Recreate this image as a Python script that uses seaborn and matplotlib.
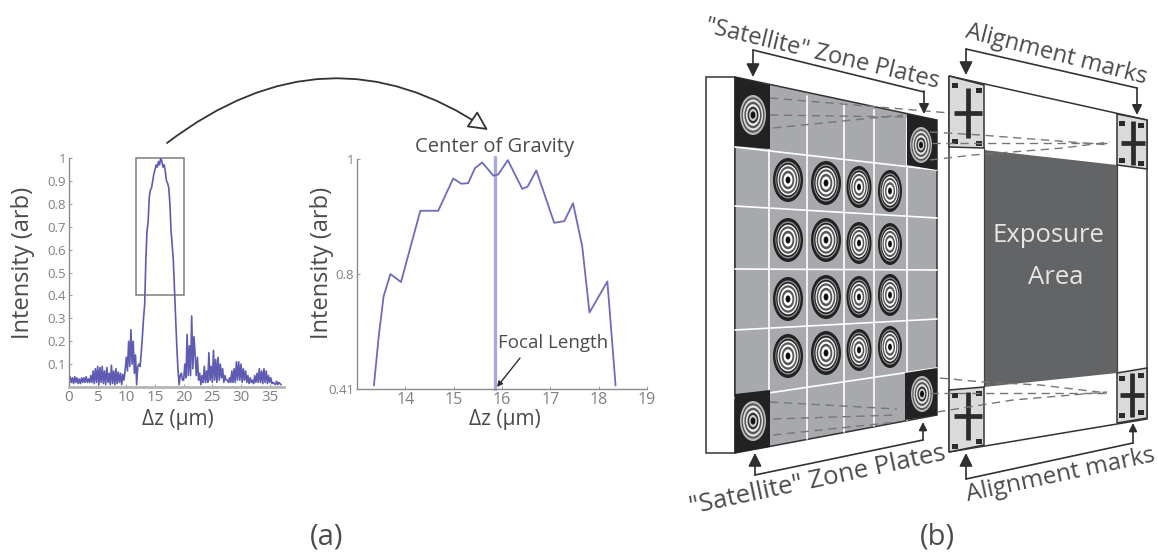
import numpy as np
import pandas as pd
import matplotlib
matplotlib.use("Agg")
import matplotlib.pyplot as plt
import seaborn as sns
from matplotlib.patches import Polygon, Ellipse, Rectangle, FancyArrowPatch
from matplotlib.path import Path

# full scan, one value every 0.2 um
scan_vals = [
    .01,.045,.02,.04,.015,.045,.02,.04,.015,.035,.015,.04,.02,.04,.02,.045,.02,.035,.02,.05,
    .02,.07,.015,.08,.02,.09,.01,.085,.02,.09,
    .015,.07,.01,.085,.02,.06,.01,.095,.015,.07,
    .01,.08,.015,.065,.02,.06,.01,.055,.03,.075,
    .13,.07,.2,.09,.25,.1,.2,.06,.14,.01,.09,
    .1,.09,.15,.22,.3,.36,.55,.68,.72,.83,.86,.87,.9,.93,.95,.97,.96,.985,.97,1.0,.985,.96,.97,.94,
    .9,.89,.87,.8,.68,.62,.55,.42,.3,.18,.08,.01,.05,.06,.03,
    .03,.1,.04,.23,.05,.18,.05,.31,.08,.22,
    .14,.05,.13,.03,.06,.01,.05,.02,.09,.02,
    .07,.02,.15,.03,.09,.02,.16,.03,.12,.02,
    .13,.03,.1,.04,.08,.02,.05,.03,.03,.02,
    .04,.02,.07,.02,.08,.02,.11,.03,.11,.03,
    .1,.02,.08,.03,.07,.02,.05,.015,.04,.02,
    .03,.015,.05,.02,.06,.02,.08,.02,.07,.015,
    .08,.02,.07,.015,.05,.02,.04,.015,.02,.015,.01,
    .025,.01,.02,.015,.01,
]
scan_dz = [i * 0.2 for i in range(len(scan_vals))]

# zoomed peak
peak_dz = [13.35,13.45,13.55,13.69,13.91,14.31,14.68,14.99,15.16,15.30,15.44,15.59,15.82,15.92,16.12,
           16.42,16.53,16.71,17.08,17.29,17.47,17.66,17.81,18.18,18.35]
peak_vals = [.606,.692,.761,.80,.786,.91,.91,.966,.957,.958,.984,.994,.971,.973,.998,
             .948,.952,.98,.889,.892,.923,.848,.733,.787,.606]
focal_dz = 15.86

left_xticks = [0,5,10,15,20,25,30,35]
left_yticks = [.1,.2,.3,.4,.5,.6,.7,.8,.9,1]
left_ylabels = ["0.1","0.2","0.3","0.4","0.5","0.6","0.7","0.8","0.9","1"]
right_xticks = [14,15,16,17,18,19]
right_yticks = [.6,.8,1]
right_ylabels = ["0.41","0.8","1"]

# zone plate layout of the sketch (image pixels)
plate_cols = [788,826,859,890]
plate_rows = [[180,240,299,356],[183,240,297,353],[187,243,297,350],[191,244,295,347]]
plate_rx = [15,15,12.5,12]
plate_ry = [22,22,21,21]
sat_plates = [(753,115,13,20),(921,145,11,18),(753,421,13,20),(922,394,11,18)]

GREY = "#4a4b4d"
BLUE = "#5f5bb2"
W, H = 1158, 558

sns.set_theme(style="white")
plt.rcParams["font.family"] = ["Open Sans", "DejaVu Sans"]

fig = plt.figure(figsize=(W/100, H/100), dpi=100)


def px_axes(x0, y0, x1, y1):
    return fig.add_axes([x0/W, 1-y1/H, (x1-x0)/W, (y1-y0)/H])


def style_axes(ax, tick_size):
    sns.despine(ax=ax)
    for s in ["left", "bottom"]:
        ax.spines[s].set_color("#8a8a8a")
        ax.spines[s].set_linewidth(1.0)
    ax.tick_params(direction="in", length=2, width=0.6, color="#8a8a8a",
                   labelcolor="#808080", labelsize=tick_size, pad=2,
                   left=True, bottom=True)
    ax.set_xlabel("")
    ax.set_ylabel("")
    ax.patch.set_alpha(0)


# left plot
ax1 = px_axes(69, 158, 284, 387)
scan = pd.DataFrame({"dz": scan_dz, "val": scan_vals})
sns.lineplot(data=scan, x="dz", y="val", ax=ax1, color=BLUE, lw=1.2, estimator=None)
ax1.set_xlim(0, 37.5)
ax1.set_ylim(0, 1)
ax1.set_xticks(left_xticks)
ax1.set_yticks(left_yticks, left_ylabels)
style_axes(ax1, 9.5)
ax1.tick_params(axis="x", labelsize=11)
ax1.spines["bottom"].set_linewidth(2)
ax1.spines["bottom"].set_color("#b5b5b5")
ax1.add_patch(Rectangle((11.65, .4), 8.35, .6, fill=False, ec="#7d7d7d", lw=1.1, clip_on=False))

# right plot
ax2 = px_axes(357, 159, 647, 389)
peak = pd.DataFrame({"dz": peak_dz, "val": peak_vals})
ax2.axvline(focal_dz, color="#a9a7dc", lw=2.4, ymax=1.01, clip_on=False)
sns.lineplot(data=peak, x="dz", y="val", ax=ax2, color="#6e6abf", lw=1.3, estimator=None)
ax2.set_xlim(13, 19)
ax2.set_ylim(.6, 1)
ax2.set_xticks(right_xticks)
ax2.set_yticks(right_yticks, right_ylabels)
style_axes(ax2, 11.5)
ax2.tick_params(axis="y", labelsize=9.5)

# overlay in image pixels for the labels and the sketch
ov = fig.add_axes([0, 0, 1, 1])
ov.set_xlim(0, W)
ov.set_ylim(H, 0)
ov.axis("off")
ov.patch.set_alpha(0)


def label(x, y, s, size=14, rot=0, color=GREY, **kw):
    ov.text(x, y, s, fontsize=size, rotation=rot, color=color, ha="center", va="center",
            rotation_mode="anchor", **kw)


def quad(pts, fc, ec="none", lw=0, z=1):
    ov.add_patch(Polygon(pts, closed=True, fc=fc, ec=ec, lw=lw, zorder=z))


def arrow(a, b, ms=20, lw=1.2):
    ov.add_patch(FancyArrowPatch(a, b, arrowstyle="-|>", mutation_scale=ms, color="#2e2e2e",
                                 lw=lw, shrinkA=0, shrinkB=0, zorder=6))


def rings(cx, cy, rx, ry, fracs, cols, z=3):
    for f, c in zip(fracs, cols):
        ov.add_patch(Ellipse((cx, cy), 2*rx*f, 2*ry*f, fc=c, ec="none", zorder=z))


def cross(cx, cy, hw, hh, lw=3.4):
    ov.plot([cx, cx], [cy-hh, cy+hh], color="#2b2b2b", lw=lw, zorder=4, solid_capstyle="butt")
    ov.plot([cx-hw, cx+hw], [cy, cy], color="#2b2b2b", lw=lw, zorder=4, solid_capstyle="butt")


def dashes(xs, ys):
    ov.plot(xs, ys, color="#777777", lw=1.0, ls=(0, (6, 4)), zorder=5)


label(23, 263, "Intensity (arb)", 17, 90)
label(178, 420, "Δz (μm)", 15)
label(322, 263, "Intensity (arb)", 17, 90)
label(505, 420, "Δz (μm)", 15)
label(495, 147, "Center of Gravity", 14.5)
label(553, 343, "Focal Length", 13.5)
label(327, 537, "(a)", 21)
label(937, 537, "(b)", 21)
arrow((520, 358), (497, 387), ms=8, lw=1)

# curved arrow between the plots
curve = Path([(167, 143), (327, 21), (488, 130)], [Path.MOVETO, Path.CURVE3, Path.CURVE3])
ov.add_patch(FancyArrowPatch(path=curve, arrowstyle="-|>", mutation_scale=30, fc="white",
                             ec="#333333", lw=1.3, shrinkA=0, shrinkB=0))

# zone plate wafer
quad([(706, 77), (735, 77), (735, 453), (706, 453)], "white", "#333333", 1.1, 1)
quad([(735, 77), (937, 120), (937, 415), (735, 453)], "#a7a9ac", "#333333", 1.1, 1)
for x, t, b in [(769, 88, 446), (807, 96, 439), (844, 104, 432), (874, 110, 426), (907, 118, 420)]:
    ov.plot([x, x], [t, b], color="white", lw=1.2, zorder=2)
for l, r in [(147, 170), (206, 218), (269, 270), (330, 319), (398, 368)]:
    ov.plot([735, 937], [l, r], color="white", lw=1.2, zorder=2)
quad([(735, 77), (770, 85), (770, 149), (735, 146)], "#222222", z=2)
quad([(907, 114), (937, 120), (937, 170), (907, 165)], "#222222", z=2)
quad([(735, 394), (770, 390), (770, 447), (735, 453)], "#222222", z=2)
quad([(905, 373), (937, 368), (937, 415), (905, 420)], "#222222", z=2)

pl_fracs = [1, .84, .78, .7, .62, .52, .42, .3, .16]
pl_cols = ["#222222", "#999999", "#222222", "#eeeeee", "#555555", "#ffffff", "#555555", "#ffffff", "#111111"]
for cx, rows, rx, ry in zip(plate_cols, plate_rows, plate_rx, plate_ry):
    for cy in rows:
        rings(cx, cy, rx, ry, pl_fracs, pl_cols)
sat_fracs = [1, .88, .78, .66, .54, .42, .3, .18]
sat_cols = ["#b8b8b8", "#555555", "#dddddd", "#555555", "#eeeeee", "#333333", "#cccccc", "#111111"]
for cx, cy, rx, ry in sat_plates:
    rings(cx, cy, rx, ry, sat_fracs, sat_cols)

# mask with alignment marks
quad([(949, 76), (1147, 120), (1147, 419), (949, 452)], "white", "#333333", 1.1, 1)
quad([(984, 150), (1117, 165), (1117, 373), (984, 387)], "#636466", z=2)
quad([(949, 76), (984, 85), (984, 148), (949, 147)], "#d9dadb", "#333333", 1.1, 3)
quad([(1117, 114), (1147, 120), (1147, 169), (1117, 165)], "#d9dadb", "#333333", 1.1, 3)
quad([(949, 390), (984, 387), (984, 445), (949, 452)], "#d9dadb", "#333333", 1.1, 3)
quad([(1117, 373), (1147, 368), (1147, 418), (1117, 423)], "#d9dadb", "#333333", 1.1, 3)
ov.plot([984, 984], [148, 387], color="#444444", lw=0.9, zorder=3)
ov.plot([1117, 1117], [165, 373], color="#444444", lw=0.9, zorder=3)
cross(968, 113, 14, 25)
cross(1133, 143, 12, 22)
cross(968, 416, 14, 24)
cross(1132, 395, 12, 22)
for sx, sy in [(955, 85), (979, 90), (955, 141), (979, 143), (1122, 123), (1141, 125), (1122, 160), (1141, 163),
               (955, 395), (979, 393), (955, 446), (979, 441), (1122, 378), (1141, 375), (1122, 415), (1141, 412)]:
    ov.add_patch(Rectangle((sx-3, sy-2.5), 6, 5, fc="#2b2b2b", ec="none", zorder=4))

dashes([770, 950], [98, 113])
dashes([770, 903], [115, 117])
dashes([773, 903], [128, 115])
dashes([930, 980, 1110], [132, 135, 145])
dashes([932, 1030, 1110], [143, 143, 143])
dashes([930, 973, 1063, 1110], [160, 155, 148, 142])
dashes([770, 897], [402, 409])
dashes([773, 897], [419, 415])
dashes([773, 897], [435, 422])
dashes([940, 983, 1040, 1107], [378, 382, 385, 393])
dashes([930, 1107], [393, 393])
dashes([937, 1013, 1107], [412, 400, 392])

label(1048, 235, "Exposure", 18.5, color="#e6e6e6", zorder=7)
label(1056, 277, "Area", 18.5, color="#e6e6e6", zorder=7)

# brackets and captions around the sketch
for pts in [[(753, 50), (924, 92)], [(755, 475), (923, 440)], [(966, 49), (1137, 88)], [(966, 479), (1133, 443)]]:
    ov.plot(*zip(*pts), color="#333333", lw=1.2, zorder=6)
arrow((753, 50), (753, 77))
arrow((924, 91), (924, 114), ms=15)
arrow((755, 475), (755, 453))
arrow((923, 440), (923, 422), ms=12)
arrow((966, 49), (966, 75))
arrow((1137, 88), (1137, 115), ms=15)
arrow((966, 479), (966, 453))
arrow((1133, 443), (1133, 423), ms=12)
label(822, 54, "\"Satellite\" Zone Plates", 17, -13.5)
label(818, 480, "\"Satellite\" Zone Plates", 18.5, 12)
label(1056, 55, "Alignment marks", 17, -14.5)
label(1061, 475, "Alignment marks", 17.5, 12)

fig.savefig("out.png", dpi=100, facecolor="white")
